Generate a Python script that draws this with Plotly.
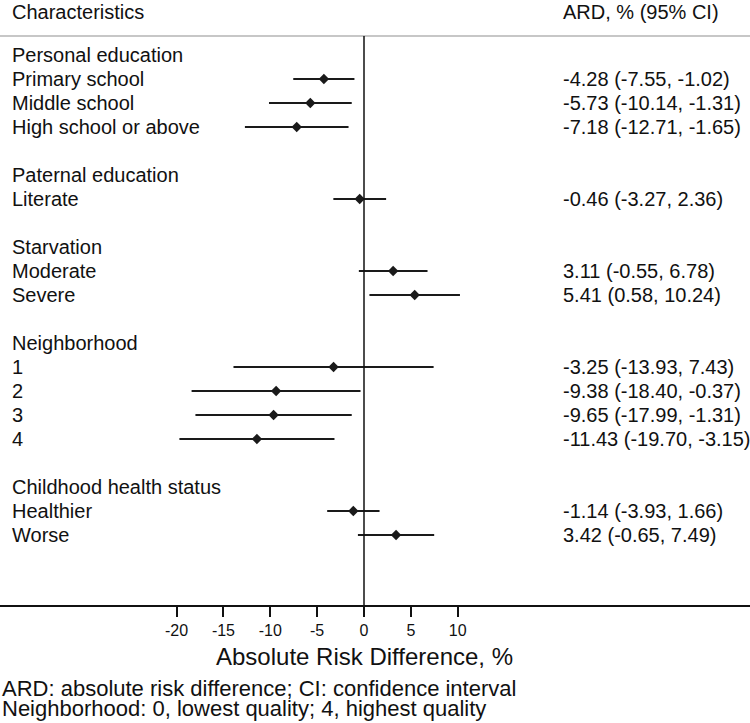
import plotly.graph_objects as go

# ---- data ----
labels = ["Personal education", "Primary school", "Middle school", "High school or above", "",
          "Paternal education", "Literate", "",
          "Starvation", "Moderate", "Severe", "",
          "Neighborhood", "1", "2", "3", "4", "",
          "Childhood health status", "Healthier", "Worse"]
est   = [None, -4.28, -5.73, -7.18, None, None, -0.46, None, None, 3.11, 5.41, None,
         None, -3.25, -9.38, -9.65, -11.43, None, None, -1.14, 3.42]
lower = [None, -7.55, -10.14, -12.71, None, None, -3.27, None, None, -0.55, 0.58, None,
         None, -13.93, -18.40, -17.99, -19.70, None, None, -3.93, -0.65]
upper = [None, -1.02, -1.31, -1.65, None, None, 2.36, None, None, 6.78, 10.24, None,
         None, 7.43, -0.37, -1.31, -3.15, None, None, 1.66, 7.49]
tick_vals = [-20, -15, -10, -5, 0, 5, 10]
tick_text = ["-20", "-15", "-10", "-5", "0", "5", "10"]

W, H = 750, 723
T, B = 36, 118
plot_h = H - T - B
FONT = "Liberation Sans, Arial, sans-serif"
ROWF = 20

def py(p):  # pixel y -> paper y
    return (H - B - p) / plot_h

rows = list(range(len(labels)))
xs = [e for e in est if e is not None]
ys = [r for r, e in zip(rows, est) if e is not None]
ep = [u - e for u, e in zip(upper, est) if e is not None]
em = [e - l for l, e in zip(lower, est) if e is not None]

fig = go.Figure()
fig.add_trace(go.Scatter(
    x=xs, y=ys, mode="markers",
    marker=dict(symbol="diamond", size=8, color="#1a1a1a"),
    error_x=dict(type="data", symmetric=False, array=ep, arrayminus=em,
                 width=0, thickness=2, color="#1a1a1a"),
    showlegend=False, hoverinfo="skip"))

def txt_ann(x, xref, y, yref, text, size, yanchor="middle", xanchor="left"):
    return dict(x=x, xref=xref, y=y, yref=yref, text=text, xanchor=xanchor,
                yanchor=yanchor, showarrow=False, borderpad=0,
                font=dict(size=size, color="#111", family=FONT))

ann = []
for r, lab in enumerate(labels):
    if lab:
        ann.append(txt_ann(11 / W, "paper", r, "y", lab, ROWF))
    if est[r] is not None:
        t = f"{est[r]:.2f} ({lower[r]:.2f}, {upper[r]:.2f})"
        ann.append(txt_ann(562 / W, "paper", r, "y", t, ROWF))

ann += [
    txt_ann(11 / W, "paper", py(0), "paper", "Characteristics", ROWF, yanchor="top"),
    txt_ann(562 / W, "paper", py(0), "paper", "ARD, % (95% CI)", ROWF, yanchor="top"),
    txt_ann(0, "x", py(656), "paper", "Absolute Risk Difference, %", 24, xanchor="center"),
    txt_ann(1 / W, "paper", py(688), "paper",
            "ARD: absolute risk difference; CI: confidence interval", 22),
    txt_ann(1 / W, "paper", py(708), "paper",
            "Neighborhood: 0, lowest quality; 4, highest quality", 22),
]

px_per = 9.37
x0px = 364
fig.update_layout(
    width=W, height=H,
    margin=dict(l=0, r=0, t=T, b=B),
    paper_bgcolor="white", plot_bgcolor="white",
    annotations=ann,
    shapes=[
        dict(type="line", xref="paper", yref="paper", x0=0, x1=1, y0=1, y1=1,
             line=dict(color="#b5b5b5", width=1.5)),
        dict(type="line", xref="x", yref="paper", x0=0, x1=0, y0=0, y1=1,
             line=dict(color="#111", width=1.5)),
    ],
    xaxis=dict(range=[-x0px / px_per, (W - x0px) / px_per],
               showgrid=False, zeroline=False, showline=True, linecolor="#111",
               linewidth=1.5, ticks="outside", ticklen=10, tickwidth=1.5,
               tickcolor="#111", tickvals=tick_vals, ticktext=tick_text,
               tickfont=dict(size=16, color="#111", family=FONT), fixedrange=True),
    yaxis=dict(range=[(H - B - 55) / 24, (T - 55) / 24], showgrid=False,
               zeroline=False, showline=False, showticklabels=False, fixedrange=True),
)

fig.write_html("out.html", config={"displayModeBar": False},
               post_script="document.body.style.margin='0';document.body.style.padding='0';")
